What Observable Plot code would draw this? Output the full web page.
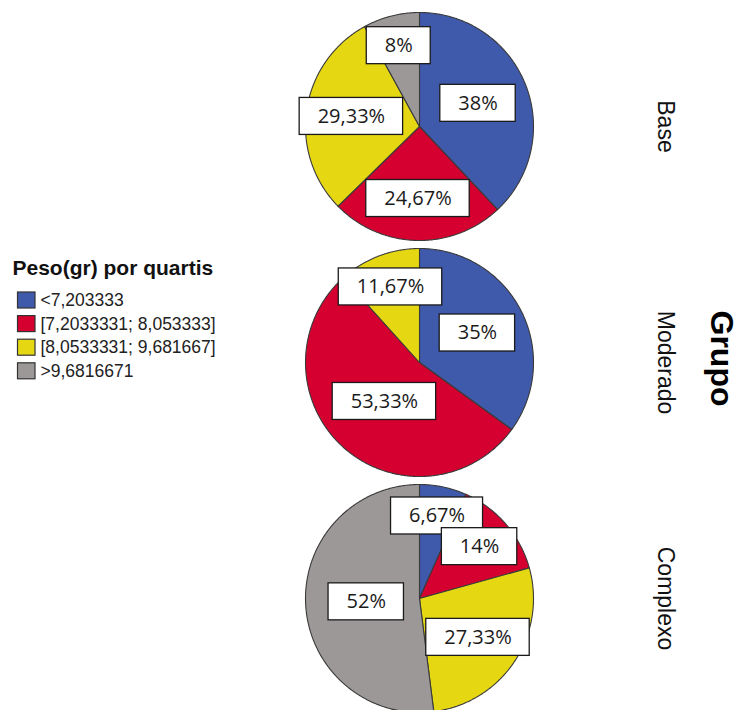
<!DOCTYPE html>
<html>
<head>
<meta charset="utf-8">
<script src="https://cdn.jsdelivr.net/npm/d3@7"></script>
<script src="https://cdn.jsdelivr.net/npm/@observablehq/plot@0.6"></script>
<style>
  html, body { margin: 0; padding: 0; background: #fff; }
  #chart svg { display: block; }
</style>
</head>
<body>
<div id="chart"></div>
<script>
// Groups (one pie each) and weight quartile categories
const groups = ["Base", "Moderado", "Complexo"];
const quartiles = ["<7,203333", "[7,2033331; 8,053333]", "[8,0533331; 9,681667]", ">9,6816671"];
const quartileColors = ["#3f5aab", "#d5002f", "#e5d812", "#9c9897"];

// Percentage of each quartile within each group
const baseValues = [38, 24.67, 29.33, 8];
const moderadoValues = [35, 53.33, 11.67, 0];
const complexoValues = [6.67, 14, 27.33, 52];

const legendTitle = "Peso(gr) por quartis";
const facetTitle = "Grupo";

// Layout (pixel units; the x and y scales map 1:1 onto the SVG)
const W = 740, H = 710;
const R = 114;
const pieX = 419;
const pieY = [126, 362, 598];
const labelFont = "20px 'Open Sans'";

const fmt = v => String(v).replace(".", ",") + "%";

// Measure label text so each value box fits its text
const ctx = document.createElement("canvas").getContext("2d");
ctx.font = labelFont;
const textWidth = s => ctx.measureText(s).width;

const pie = d3.pie().sort(null).value(d => d.value);
const slicePoints = [];
const labels = [];
[baseValues, moderadoValues, complexoValues].forEach((vals, g) => {
  const cx = pieX, cy = pieY[g];
  const arcs = pie(vals.map((value, i) => ({value, i})));
  arcs.forEach(a => {
    const v = a.data.value;
    if (v <= 0) return;
    const id = g + "-" + a.data.i;
    const q = quartiles[a.data.i];
    const span = a.endAngle - a.startAngle;
    const n = Math.max(2, Math.ceil(span / 0.01));
    slicePoints.push({id, q, x: cx, y: cy});
    for (let k = 0; k <= n; k++) {
      const t = a.startAngle + span * k / n;
      slicePoints.push({id, q, x: cx + R * Math.sin(t), y: cy - R * Math.cos(t)});
    }
    // label sits along the mid angle, smaller slices pushed further out
    const mid = (a.startAngle + a.endAngle) / 2;
    const f = 0.78 - 0.006 * v;
    const text = fmt(v);
    labels.push({
      text,
      x: cx + f * R * Math.sin(mid),
      y: cy - f * R * Math.cos(mid),
      w: textWidth(text) + 36,
      h: 37
    });
  });
});

// Legend rows
const legendRows = quartiles.map((q, i) => ({q, y: 300 + i * 23.6}));

const chart = Plot.plot({
  width: W,
  height: H,
  margin: 0,
  x: {domain: [0, W], range: [0, W], axis: null},
  y: {domain: [0, H], range: [0, H], axis: null},
  color: {domain: quartiles, range: quartileColors},
  style: {fontFamily: "'Liberation Sans', Arial, sans-serif", background: "#fff"},
  marks: [
    // pie slices
    Plot.line(slicePoints, {
      x: "x", y: "y", z: "id", fill: "q",
      stroke: "#3a3a3a", strokeWidth: 1.1, curve: "linear-closed"
    }),
    // value boxes
    Plot.rect(labels, {
      x1: d => d.x - d.w / 2, x2: d => d.x + d.w / 2,
      y1: d => d.y - d.h / 2, y2: d => d.y + d.h / 2,
      fill: "#fff", stroke: "#1a1a1a", strokeWidth: 1.3
    }),
    Plot.text(labels, {
      x: "x", y: "y", text: "text",
      fontFamily: "'Open Sans', sans-serif", fontSize: 20, fill: "#1a1a1a"
    }),
    // legend
    Plot.text([legendTitle], {
      x: () => 12, y: () => 268, text: d => d,
      textAnchor: "start", fontWeight: "bold", fontSize: 21, fill: "#111"
    }),
    Plot.rect(legendRows, {
      x1: () => 17.5, x2: () => 35,
      y1: d => d.y - 8, y2: d => d.y + 8,
      fill: "q", stroke: "#333", strokeWidth: 1.2
    }),
    Plot.text(legendRows, {
      x: () => 40, y: "y", text: "q",
      textAnchor: "start", fontSize: 17.5, fill: "#222"
    }),
    // group names on the right
    Plot.text(groups, {
      x: () => 665, y: (d, i) => pieY[i], text: d => d,
      rotate: 90, fontSize: 23, fill: "#111"
    }),
    Plot.text([facetTitle], {
      x: () => 721, y: () => 358, text: d => d,
      rotate: 90, fontWeight: "bold", fontSize: 32, fill: "#000"
    })
  ]
});

document.getElementById("chart").append(chart);
</script>
</body>
</html>
